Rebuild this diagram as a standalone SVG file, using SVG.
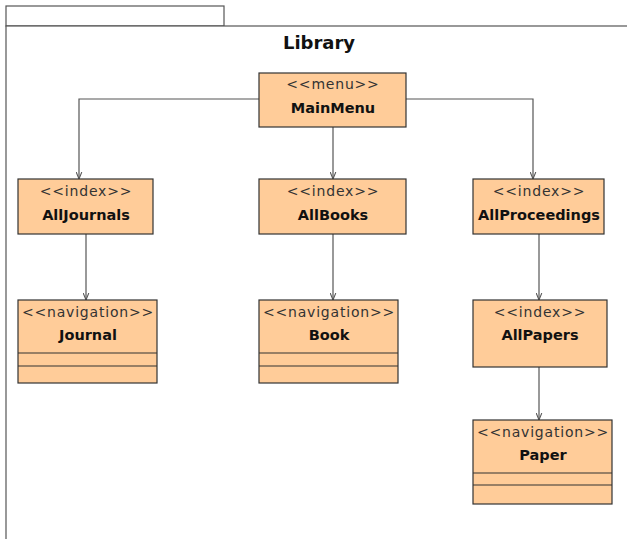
<svg xmlns="http://www.w3.org/2000/svg" width="627" height="539" viewBox="0 0 627 539">
<style>
.pkg{fill:#fff;stroke:#555;stroke-width:1.2}
.box{fill:#FFCC99;stroke:#333;stroke-width:1.2}
.sep{stroke:#333;stroke-width:1.2}
.st{font-family:"DejaVu Sans",sans-serif;font-size:14px;fill:#333;text-anchor:middle;letter-spacing:0.8px}
.nm{font-family:"DejaVu Sans",sans-serif;font-size:14.5px;font-weight:bold;fill:#111;text-anchor:middle}
.title{font-family:"DejaVu Sans",sans-serif;font-size:18px;font-weight:bold;fill:#111;text-anchor:middle}
.con{fill:none;stroke:#555;stroke-width:1.2;marker-end:url(#arr)}
</style>
<defs>
<marker id="arr" viewBox="0 0 10 10" refX="10" refY="5" markerWidth="7" markerHeight="7" markerUnits="userSpaceOnUse" orient="auto">
<path d="M0,1 L10,5 L0,9" fill="none" stroke="#555" stroke-width="1.5"/>
</marker>
</defs>
<g id="package">
<rect class="pkg" x="6" y="6" width="218" height="20"/>
<rect class="pkg" x="6" y="26" width="660" height="560"/>
<text class="title" x="319" y="49">Library</text>
</g>
<g id="connectors">
<path class="con" d="M259,99 H79 V179"/>
<path class="con" d="M406,99 H533 V179"/>
<path class="con" d="M333,127 V179"/>
<path class="con" d="M86,234 V300"/>
<path class="con" d="M333,234 V300"/>
<path class="con" d="M539,234 V300"/>
<path class="con" d="M539,367 V420"/>
</g>
<g id="MainMenu">
<rect class="box" x="259" y="73" width="147" height="54"/>
<text class="st" x="333" y="89">&lt;&lt;menu&gt;&gt;</text>
<text class="nm" x="333" y="113">MainMenu</text>
</g>
<g id="AllJournals">
<rect class="box" x="18" y="179" width="135" height="55"/>
<text class="st" x="86" y="196">&lt;&lt;index&gt;&gt;</text>
<text class="nm" x="86" y="220">AllJournals</text>
</g>
<g id="AllBooks">
<rect class="box" x="259" y="179" width="147" height="55"/>
<text class="st" x="333" y="196">&lt;&lt;index&gt;&gt;</text>
<text class="nm" x="333" y="220">AllBooks</text>
</g>
<g id="AllProceedings">
<rect class="box" x="473" y="179" width="131" height="55"/>
<text class="st" x="539" y="196">&lt;&lt;index&gt;&gt;</text>
<text class="nm" x="539" y="220">AllProceedings</text>
</g>
<g id="Journal">
<rect class="box" x="18" y="300" width="139" height="83"/>
<line class="sep" x1="18" y1="353" x2="157" y2="353"/>
<line class="sep" x1="18" y1="366" x2="157" y2="366"/>
<text class="st" x="88" y="317">&lt;&lt;navigation&gt;&gt;</text>
<text class="nm" x="88" y="340">Journal</text>
</g>
<g id="Book">
<rect class="box" x="259" y="300" width="139" height="83"/>
<line class="sep" x1="259" y1="353" x2="398" y2="353"/>
<line class="sep" x1="259" y1="366" x2="398" y2="366"/>
<text class="st" x="329" y="317">&lt;&lt;navigation&gt;&gt;</text>
<text class="nm" x="329" y="340">Book</text>
</g>
<g id="AllPapers">
<rect class="box" x="473" y="300" width="134" height="67"/>
<text class="st" x="540" y="317">&lt;&lt;index&gt;&gt;</text>
<text class="nm" x="540" y="340">AllPapers</text>
</g>
<g id="Paper">
<rect class="box" x="473" y="420" width="139" height="84"/>
<line class="sep" x1="473" y1="473" x2="612" y2="473"/>
<line class="sep" x1="473" y1="485" x2="612" y2="485"/>
<text class="st" x="543" y="437">&lt;&lt;navigation&gt;&gt;</text>
<text class="nm" x="543" y="460">Paper</text>
</g>
</svg>
